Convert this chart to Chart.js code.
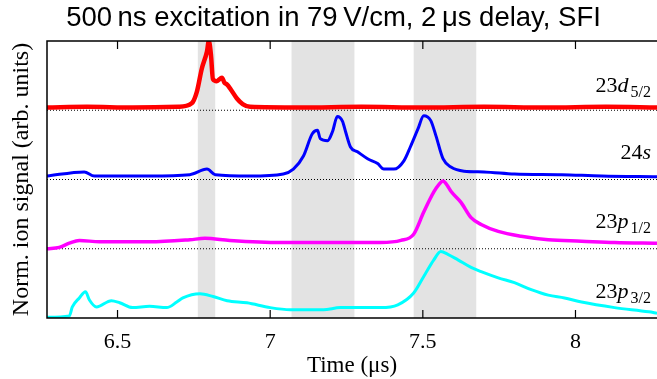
<!DOCTYPE html>
<html>
<head>
<meta charset="utf-8">
<script src="https://cdn.jsdelivr.net/npm/chart.js@4"></script>
<style>
  html, body { margin: 0; padding: 0; background: #fff; }
  #wrap { width: 657px; height: 379px; }
</style>
</head>
<body>
<div id="wrap"><canvas id="sfi"></canvas></div>
<script>
/* SFI traces, offset by 1 unit each */

const xTicks = [6.5, 7, 7.5, 8];
const bandStart = [6.763, 7.07, 7.47];
const bandEnd   = [6.82, 7.276, 7.675];
const baselineLevels = [3, 2, 1];

const redT = [6.269, 6.40, 6.55, 6.70, 6.743, 6.76, 6.776, 6.793, 6.799, 6.806, 6.8125, 6.825, 6.842, 6.85, 6.859, 6.868, 6.891, 6.91, 6.934, 7.1, 7.3, 7.5, 7.7, 7.9, 8.1, 8.267];
const redV = [3.04, 3.05, 3.04, 3.05, 3.10, 3.27, 3.60, 3.85, 4.00, 3.80, 3.45, 3.42, 3.47, 3.40, 3.37, 3.32, 3.17, 3.09, 3.05, 3.04, 3.05, 3.04, 3.05, 3.04, 3.05, 3.04];

const blueT = [6.269, 6.391, 6.424, 6.605, 6.737, 6.793, 6.82, 6.934, 7.043, 7.076, 7.109, 7.138, 7.155, 7.164, 7.188, 7.204, 7.22, 7.237, 7.247, 7.263, 7.286, 7.319, 7.352, 7.372, 7.405, 7.438, 7.461, 7.484, 7.503, 7.526, 7.543, 7.566, 7.592, 7.635, 7.70, 7.80, 7.954, 8.086, 8.267];
const blueV = [2.05, 2.11, 2.05, 2.05, 2.07, 2.15, 2.07, 2.05, 2.08, 2.15, 2.34, 2.66, 2.71, 2.59, 2.56, 2.69, 2.91, 2.84, 2.69, 2.47, 2.40, 2.30, 2.23, 2.15, 2.15, 2.27, 2.49, 2.73, 2.92, 2.85, 2.63, 2.30, 2.18, 2.12, 2.11, 2.08, 2.07, 2.05, 2.04];

const magT = [6.269, 6.309, 6.342, 6.375, 6.441, 6.605, 6.737, 6.786, 6.868, 7.033, 7.197, 7.362, 7.428, 7.47, 7.503, 7.536, 7.553, 7.566, 7.579, 7.592, 7.625, 7.658, 7.691, 7.747, 7.822, 7.911, 8.02, 8.128, 8.267];
const magV = [1.00, 1.02, 1.08, 1.12, 1.10, 1.10, 1.13, 1.15, 1.12, 1.09, 1.09, 1.09, 1.12, 1.21, 1.53, 1.82, 1.93, 1.98, 1.92, 1.83, 1.67, 1.45, 1.35, 1.25, 1.18, 1.13, 1.11, 1.09, 1.08];

const cyanT = [6.269, 6.342, 6.352, 6.375, 6.395, 6.408, 6.431, 6.48, 6.507, 6.549, 6.605, 6.661, 6.694, 6.714, 6.77, 6.813, 6.859, 6.924, 7.0, 7.066, 7.174, 7.23, 7.362, 7.418, 7.47, 7.503, 7.536, 7.559, 7.582, 7.615, 7.658, 7.691, 7.747, 7.80, 7.855, 7.911, 7.964, 8.02, 8.128, 8.24, 8.267];
const cyanV = [0.01, 0.03, 0.16, 0.29, 0.38, 0.26, 0.16, 0.25, 0.22, 0.15, 0.17, 0.15, 0.23, 0.29, 0.35, 0.31, 0.25, 0.22, 0.15, 0.12, 0.12, 0.15, 0.15, 0.19, 0.36, 0.60, 0.84, 0.96, 0.92, 0.84, 0.73, 0.67, 0.58, 0.51, 0.41, 0.33, 0.29, 0.23, 0.15, 0.09, 0.07];

const labelMain   = ['23', '24', '23', '23'];
const labelLetter = ['d', 's', 'p', 'p'];
const labelSub    = ['5/2', '', '1/2', '3/2'];
const labelLevel  = [3.27, 2.29, 1.30, 0.29];

const xMin = 6.269, xMax = 8.267;

const pts = (t, v) => t.map((tt, i) => ({ x: tt, y: v[i] }));

function trace(t, v, color, w) {
  return {
    data: pts(t, v), borderColor: color, borderWidth: w,
    pointRadius: 0, cubicInterpolationMode: 'monotone', fill: false
  };
}

const datasets = baselineLevels.map(l => ({
  data: [{ x: xMin, y: l }, { x: xMax, y: l }],
  borderColor: '#000', borderWidth: 1, borderDash: [1, 2],
  pointRadius: 0, order: 10
}));
datasets.push(trace(cyanT, cyanV, '#00ffff', 3));
datasets.push(trace(magT, magV, '#ff00ff', 3.5));
datasets.push(trace(blueT, blueV, '#0000ff', 3));
datasets.push(trace(redT, redV, '#ff0000', 4.5));

const decor = {
  id: 'decor',
  beforeDatasetsDraw(chart) {
    const { ctx, chartArea: a, scales: { x } } = chart;
    ctx.save();
    ctx.fillStyle = '#e3e3e3';
    bandStart.forEach((s, i) => {
      const x0 = x.getPixelForValue(s), x1 = x.getPixelForValue(bandEnd[i]);
      ctx.fillRect(x0, a.top, x1 - x0, a.bottom - a.top);
    });
    ctx.restore();
  },
  afterDatasetsDraw(chart) {
    const { ctx, chartArea: a, scales: { x, y } } = chart;
    ctx.save();
    // frame
    ctx.strokeStyle = '#000';
    ctx.lineWidth = 1.5;
    ctx.beginPath();
    ctx.moveTo(a.right + 2, a.top); ctx.lineTo(a.left, a.top);
    ctx.lineTo(a.left, a.bottom); ctx.lineTo(a.right + 2, a.bottom);
    ctx.stroke();
    // inward ticks
    ctx.lineWidth = 1.2;
    xTicks.forEach(v => {
      const px = x.getPixelForValue(v);
      ctx.beginPath();
      ctx.moveTo(px, a.bottom); ctx.lineTo(px, a.bottom - 8);
      ctx.moveTo(px, a.top); ctx.lineTo(px, a.top + 8);
      ctx.stroke();
    });
    // state labels
    ctx.fillStyle = '#000';
    ctx.textBaseline = 'alphabetic';
    const main = '22px "Liberation Serif"', ital = 'italic 22px "Liberation Serif"', sub = '16px "Liberation Serif"';
    labelMain.forEach((m, i) => {
      ctx.font = main; const w1 = ctx.measureText(m).width;
      ctx.font = ital; const w2 = ctx.measureText(labelLetter[i]).width + 1;
      ctx.font = sub; const w3 = labelSub[i] ? ctx.measureText(labelSub[i]).width + 2 : 0;
      let px = 652 - (w1 + w2 + w3);
      const py = y.getPixelForValue(labelLevel[i]);
      ctx.font = main; ctx.fillText(m, px, py); px += w1;
      ctx.font = ital; ctx.fillText(labelLetter[i], px, py); px += w2 + 1;
      if (labelSub[i]) { ctx.font = sub; ctx.fillText(labelSub[i], px, py + 5); }
    });
    ctx.restore();
  }
};

new Chart(document.getElementById('sfi'), {
  type: 'line',
  data: { datasets },
  options: {
    responsive: true,
    maintainAspectRatio: false,
    animation: false,
    layout: { padding: { left: 10, right: 0, top: 2, bottom: 1.6 } },
    plugins: {
      legend: { display: false },
      tooltip: { enabled: false },
      title: {
        display: true,
        text: '500\u2009ns excitation in 79\u2009V/cm, 2\u2009\u03bcs delay, SFI',
        color: '#000',
        font: { family: '"Liberation Sans"', size: 27.5, weight: 'normal' },
        padding: { top: 0, bottom: 6 }
      }
    },
    scales: {
      x: {
        type: 'linear', min: xMin, max: xMax,
        afterBuildTicks: s => { s.ticks = xTicks.map(v => ({ value: v })); },
        grid: { display: false, drawTicks: false }, border: { display: false },
        ticks: { color: '#000', font: { family: '"Liberation Serif"', size: 22 }, padding: 11, maxRotation: 0,
                 callback: v => String(v) },
        title: { display: true, text: 'Time (\u03bcs)', color: '#000',
                 font: { family: '"Liberation Serif"', size: 23, lineHeight: 1 }, padding: { top: -12, bottom: 0 } }
      },
      y: {
        min: 0, max: 4,
        grid: { display: false, drawTicks: false }, border: { display: false },
        ticks: { display: false },
        title: { display: true, text: 'Norm. ion signal (arb. units)', color: '#000',
                 font: { family: '"Liberation Serif"', size: 24, lineHeight: 1 }, padding: { top: 0, bottom: 13 } }
      }
    }
  },
  plugins: [decor]
});
</script>
</body>
</html>
